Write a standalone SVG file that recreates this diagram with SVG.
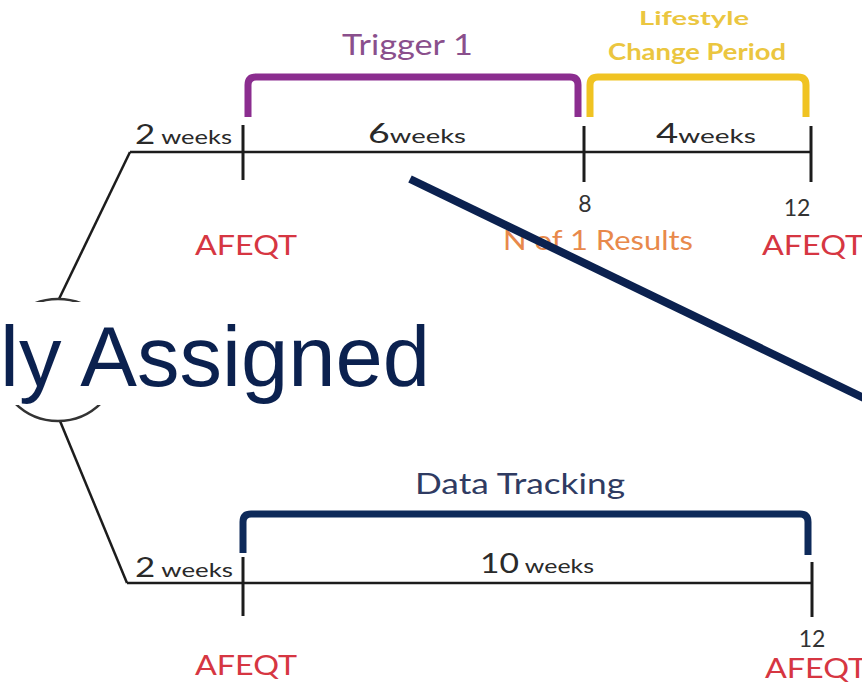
<svg xmlns="http://www.w3.org/2000/svg" width="862" height="686" viewBox="0 0 862 686">
<style>
.tl{stroke:#1c1c1c;stroke-width:2.5;fill:none}
.tk{stroke:#1c1c1c;stroke-width:3;fill:none}
.br{fill:none;stroke-width:7;stroke-linejoin:round;stroke-linecap:butt}
.c{font-family:Lato,"Open Sans",sans-serif}
.wk{fill:#2a2a2a}
.af{fill:#d63642;font-size:27px}
.num{fill:#333;font-size:23px}
</style>
<rect width="862" height="686" fill="#fff"/>
<g id="connectors">
<path class="tl" d="M130,152 L59,299"/>
<path class="tl" d="M60,421 L127,583"/>
</g>
<g id="origin">
<circle cx="58" cy="360" r="61" fill="#fff" stroke="#333" stroke-width="2.5"/>
</g>
<g id="timeline-top">
<path class="tl" d="M130,152 H812"/>
<path class="tk" d="M243,125 V180 M584,126 V182 M811,126 V182"/>
<text class="c wk" x="135" y="144" textLength="97" lengthAdjust="spacingAndGlyphs"><tspan font-size="26">2</tspan><tspan font-size="19"> weeks</tspan></text>
<text class="c wk" x="368" y="143" textLength="98" lengthAdjust="spacingAndGlyphs"><tspan font-size="26">6</tspan><tspan font-size="19">weeks</tspan></text>
<text class="c wk" x="656" y="143" textLength="100" lengthAdjust="spacingAndGlyphs"><tspan font-size="26">4</tspan><tspan font-size="19">weeks</tspan></text>
<text class="c num" x="585" y="212" text-anchor="middle">8</text>
<text class="c num" x="797" y="216" text-anchor="middle">12</text>
<text class="c af" x="195" y="255" textLength="102" lengthAdjust="spacingAndGlyphs">AFEQT</text>
<text class="c" x="503" y="250" font-size="26" fill="#e8894b" textLength="190" lengthAdjust="spacingAndGlyphs">N of 1 Results</text>
<text class="c af" x="762" y="255" textLength="102" lengthAdjust="spacingAndGlyphs">AFEQT</text>
</g>
<g id="trigger1">
<path class="br" stroke="#8b2d8f" d="M248,117 V85 Q248,77 256,77 H570 Q578,77 578,85 V117"/>
<text class="c" x="342" y="55" font-size="28" fill="#8a4f8c" textLength="131" lengthAdjust="spacingAndGlyphs">Trigger 1</text>
</g>
<g id="lifestyle">
<path class="br" stroke="#f0c322" d="M590,117 V85 Q590,77 598,77 H798 Q806,77 806,85 V117"/>
<text class="c" x="694" y="25" font-size="19" font-weight="bold" fill="#ebc640" text-anchor="middle" textLength="110" lengthAdjust="spacingAndGlyphs">Lifestyle</text>
<text class="c" x="697" y="60" font-size="22" font-weight="bold" fill="#ebc640" text-anchor="middle" textLength="178" lengthAdjust="spacingAndGlyphs">Change Period</text>
</g>
<g id="timeline-bottom">
<path class="tl" d="M127,583 H812"/>
<path class="tk" d="M243,557 V616 M812,562 V617"/>
<text class="c wk" x="135" y="577" textLength="98" lengthAdjust="spacingAndGlyphs"><tspan font-size="27">2</tspan><tspan font-size="20"> weeks</tspan></text>
<text class="c wk" x="480" y="573" textLength="114" lengthAdjust="spacingAndGlyphs"><tspan font-size="27">10</tspan><tspan font-size="20"> weeks</tspan></text>
<text class="c num" x="812" y="647" text-anchor="middle">12</text>
<text class="c af" x="195" y="675" textLength="102" lengthAdjust="spacingAndGlyphs">AFEQT</text>
<text class="c af" x="765" y="678" textLength="102" lengthAdjust="spacingAndGlyphs">AFEQT</text>
</g>
<g id="data-tracking">
<path class="br" stroke="#0e2a5a" d="M243,553 V522 Q243,514 251,514 H800 Q808,514 808,522 V555"/>
<text class="c" x="415" y="494" font-size="28" fill="#2f3b62" textLength="210" lengthAdjust="spacingAndGlyphs">Data Tracking</text>
</g>
<g id="overlay-line">
<line x1="410" y1="179" x2="866" y2="399" stroke="#0b214f" stroke-width="8"/>
</g>
<g id="assigned-label">
<rect x="0" y="302" width="453" height="103" fill="#fff"/>
<text x="0" y="386" font-family="Liberation Sans, Arial, sans-serif" font-size="85" fill="#0b214f">ly Assigned</text>
</g>
</svg>
